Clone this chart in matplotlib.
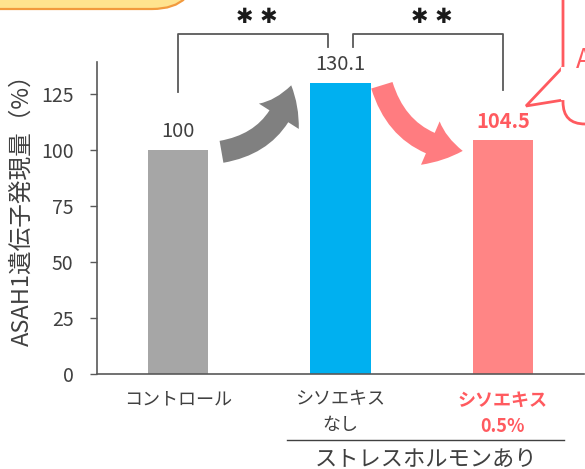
import matplotlib
matplotlib.use("Agg")
import matplotlib.pyplot as plt
from matplotlib.patches import FancyArrowPatch, FancyBboxPatch, Polygon
from matplotlib.transforms import IdentityTransform, blended_transform_factory
from matplotlib.lines import Line2D

plt.rcParams['font.family'] = ['Noto Sans CJK JP', 'DejaVu Sans']

# data
categories = ['コントロール', 'シソエキス\nなし', 'シソエキス\n0.5%']
values = [100, 130.1, 104.5]
value_labels = ['100', '130.1', '104.5']
bar_colors = ['#A6A6A6', '#00B0F0', '#FF8585']
label_colors = ['#404040', '#404040', '#FF5A5F']
group_label = 'ストレスホルモンあり'
y_label = 'ASAH1遺伝子発現量（%）'
y_ticks = [0, 25, 50, 75, 100, 125]
sig_pairs = [(0, 1), (1, 2)]
sig_text = '✱ ✱'

W, H = 585, 469
fig = plt.figure(figsize=(W / 100, H / 100), dpi=100)
ax = fig.add_axes([97 / W, 95 / H, 487 / W, 312 / H])

x = list(range(len(categories)))
ax.bar(x, values, width=0.37, color=bar_colors, zorder=2)
ax.set_xlim(-0.5, 2.5)
ax.set_ylim(0, 139.3)

ax.spines['top'].set_visible(False)
ax.spines['right'].set_visible(False)
for s in ('left', 'bottom'):
    ax.spines[s].set_color('#595959')
    ax.spines[s].set_linewidth(1.2)

ax.set_yticks(y_ticks)
ax.tick_params(axis='y', length=5, width=1, color='#595959', labelsize=14,
               labelcolor='#404040', pad=12)
ax.set_xticks(x)
ax.set_xticklabels(categories, fontsize=13, linespacing=1.5)
ax.tick_params(axis='x', length=0, pad=12)
for lab, c in zip(ax.get_xticklabels(), label_colors):
    lab.set_color(c)
    if c != '#404040':
        lab.set_fontweight('bold')

ax.set_ylabel(y_label, fontsize=17, color='#404040')
ax.yaxis.set_label_coords(-0.131, 0.545)

# value labels
for i, (v, t, c) in enumerate(zip(values, value_labels, label_colors)):
    ax.text(i, v + 3.5, t, ha='center', va='bottom', fontsize=14.5, color=c,
            fontweight='bold' if c != '#404040' else 'normal')

# significance brackets
top_y = 152
for (a, b), lo_a, lo_b in zip(sig_pairs, [values[0] + 26, 146], [146, values[2] + 22.3]):
    xa = a + (0.08 if a == 1 else 0)
    xb = b - (0.074 if b == 1 else 0)
    ax.plot([xa, xa, xb, xb], [lo_a, top_y, top_y, lo_b], color='#595959', lw=1.3,
            clip_on=False, zorder=3)
    ax.text((xa + xb) / 2 + 0.02, top_y + 3, sig_text, ha='center', va='bottom',
            fontsize=15, color='#1a1a1a', family='DejaVu Sans')

# curved arrows
arr_style = 'simple,head_width=1.7,head_length=1.2,tail_width=0.8'
ax.add_patch(FancyArrowPatch((0.25, values[0] - 1), (0.7, values[1]),
                             connectionstyle='arc3,rad=0.35', arrowstyle=arr_style,
                             mutation_scale=20, color='#808080', lw=0, zorder=3))
ax.add_patch(FancyArrowPatch((1.25, values[1]), (1.77, values[2] - 5),
                             connectionstyle='arc3,rad=0.35', arrowstyle=arr_style,
                             mutation_scale=20, color='#FF7C80', lw=0, zorder=3))

# group line and label under the x labels
tr = blended_transform_factory(ax.transData, ax.transAxes)
ax.add_line(Line2D([1 - 0.33, 2 + 0.375], [-0.2115, -0.2115], transform=tr,
                   color='#404040', lw=1, clip_on=False))
ax.text(1.525, -0.272, group_label, transform=tr, ha='center', va='center',
        fontsize=16, color='#404040')

# decoration: yellow box (top-left) and speech bubble (top-right)
idt = IdentityTransform()
fig.patches.append(FancyBboxPatch((-80, H - 9), 277, 120,
                                  boxstyle='round,pad=0,rounding_size=45',
                                  facecolor='#FFE38F', edgecolor='#F29A3E', lw=1.6,
                                  transform=idt, figure=fig))
fig.patches.append(FancyBboxPatch((563, H - 124), 120, 160,
                                  boxstyle='round,pad=0,rounding_size=22',
                                  facecolor='white', edgecolor='#FF5A5F', lw=2,
                                  transform=idt, figure=fig))
fig.patches.append(Polygon([(563, H - 67), (526, H - 106), (563, H - 100)], closed=False,
                           facecolor='white', edgecolor='#FF5A5F', lw=2,
                           transform=idt, figure=fig))
fig.lines.append(Line2D([563, 563], [H - 69, H - 98], color='white', lw=3,
                        transform=idt, figure=fig))
fig.text(576 / W, 1 - 60 / H, 'A', fontsize=19, color='#FF5A5F', va='center', ha='left')

fig.savefig('out.png', dpi=100)
